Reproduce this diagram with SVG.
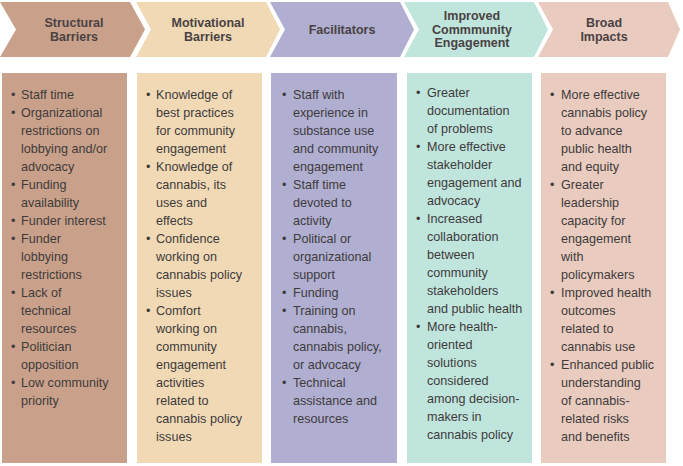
<svg xmlns="http://www.w3.org/2000/svg" width="683" height="466" viewBox="0 0 683 466">
<style>
.hd{font-family:"Liberation Sans",Arial,sans-serif;font-size:12.5px;font-weight:bold;fill:#4a4242;text-anchor:middle}
.tx{font-family:"Liberation Sans",Arial,sans-serif;font-size:12.6px;fill:#3f3b3b}
.c1{fill:#C9A18A}.c2{fill:#F1D9B6}.c3{fill:#B0AED1}.c4{fill:#BFE5DD}.c5{fill:#E9CBC0}
</style>
<rect width="683" height="466" fill="#ffffff"/>
<g id="structural">
<polygon class="c1" points="0,2 130,2 145,29.5 130,57 0,57 16,29.5"/>
<text class="hd" x="74" y="27">Structural</text>
<text class="hd" x="74" y="40.5">Barriers</text>
<rect class="c1" x="2" y="73" width="125" height="390"/>
<g class="tx">
<text x="11" y="98.5">•</text>
<text x="21" y="98.5">Staff time</text>
<text x="11" y="116.5">•</text>
<text x="21" y="116.5">Organizational</text>
<text x="21" y="134.5">restrictions on</text>
<text x="21" y="152.5">lobbying and/or</text>
<text x="21" y="170.5">advocacy</text>
<text x="11" y="188.5">•</text>
<text x="21" y="188.5">Funding</text>
<text x="21" y="206.5">availability</text>
<text x="11" y="224.5">•</text>
<text x="21" y="224.5">Funder interest</text>
<text x="11" y="242.5">•</text>
<text x="21" y="242.5">Funder</text>
<text x="21" y="260.5">lobbying</text>
<text x="21" y="278.5">restrictions</text>
<text x="11" y="296.5">•</text>
<text x="21" y="296.5">Lack of</text>
<text x="21" y="314.5">technical</text>
<text x="21" y="332.5">resources</text>
<text x="11" y="350.5">•</text>
<text x="21" y="350.5">Politician</text>
<text x="21" y="368.5">opposition</text>
<text x="11" y="386.5">•</text>
<text x="21" y="386.5">Low community</text>
<text x="21" y="404.5">priority</text>
</g>
</g>
<g id="motivational">
<polygon class="c2" points="136,2 266,2 280,29.5 266,57 136,57 151,29.5"/>
<text class="hd" x="208" y="27">Motivational</text>
<text class="hd" x="208" y="40.5">Barriers</text>
<rect class="c2" x="137" y="73" width="125" height="390"/>
<g class="tx">
<text x="146" y="98.5">•</text>
<text x="156" y="98.5">Knowledge of</text>
<text x="156" y="116.5">best practices</text>
<text x="156" y="134.5">for community</text>
<text x="156" y="152.5">engagement</text>
<text x="146" y="170.5">•</text>
<text x="156" y="170.5">Knowledge of</text>
<text x="156" y="188.5">cannabis, its</text>
<text x="156" y="206.5">uses and</text>
<text x="156" y="224.5">effects</text>
<text x="146" y="242.5">•</text>
<text x="156" y="242.5">Confidence</text>
<text x="156" y="260.5">working on</text>
<text x="156" y="278.5">cannabis policy</text>
<text x="156" y="296.5">issues</text>
<text x="146" y="314.5">•</text>
<text x="156" y="314.5">Comfort</text>
<text x="156" y="332.5">working on</text>
<text x="156" y="350.5">community</text>
<text x="156" y="368.5">engagement</text>
<text x="156" y="386.5">activities</text>
<text x="156" y="404.5">related to</text>
<text x="156" y="422.5">cannabis policy</text>
<text x="156" y="440.5">issues</text>
</g>
</g>
<g id="facilitators">
<polygon class="c3" points="270,2 400,2 414,29.5 400,57 270,57 285,29.5"/>
<text class="hd" x="342" y="34">Facilitators</text>
<rect class="c3" x="271" y="73" width="126" height="390"/>
<g class="tx">
<text x="282" y="98.5">•</text>
<text x="293" y="98.5">Staff with</text>
<text x="293" y="116.5">experience in</text>
<text x="293" y="134.5">substance use</text>
<text x="293" y="152.5">and community</text>
<text x="293" y="170.5">engagement</text>
<text x="282" y="188.5">•</text>
<text x="293" y="188.5">Staff time</text>
<text x="293" y="206.5">devoted to</text>
<text x="293" y="224.5">activity</text>
<text x="282" y="242.5">•</text>
<text x="293" y="242.5">Political or</text>
<text x="293" y="260.5">organizational</text>
<text x="293" y="278.5">support</text>
<text x="282" y="296.5">•</text>
<text x="293" y="296.5">Funding</text>
<text x="282" y="314.5">•</text>
<text x="293" y="314.5">Training on</text>
<text x="293" y="332.5">cannabis,</text>
<text x="293" y="350.5">cannabis policy,</text>
<text x="293" y="368.5">or advocacy</text>
<text x="282" y="386.5">•</text>
<text x="293" y="386.5">Technical</text>
<text x="293" y="404.5">assistance and</text>
<text x="293" y="422.5">resources</text>
</g>
</g>
<g id="improved">
<polygon class="c4" points="404,2 534,2 548,29.5 534,57 404,57 419,29.5"/>
<text class="hd" x="472" y="20">Improved</text>
<text class="hd" x="472" y="33.5">Commmunity</text>
<text class="hd" x="472" y="47">Engagement</text>
<rect class="c4" x="407" y="73" width="125" height="390"/>
<g class="tx">
<text x="416" y="96.5">•</text>
<text x="427" y="96.5">Greater</text>
<text x="427" y="114.5">documentation</text>
<text x="427" y="132.5">of problems</text>
<text x="416" y="150.5">•</text>
<text x="427" y="150.5">More effective</text>
<text x="427" y="168.5">stakeholder</text>
<text x="427" y="186.5">engagement and</text>
<text x="427" y="204.5">advocacy</text>
<text x="416" y="222.5">•</text>
<text x="427" y="222.5">Increased</text>
<text x="427" y="240.5">collaboration</text>
<text x="427" y="258.5">between</text>
<text x="427" y="276.5">community</text>
<text x="427" y="294.5">stakeholders</text>
<text x="427" y="312.5">and public health</text>
<text x="416" y="330.5">•</text>
<text x="427" y="330.5">More health-</text>
<text x="427" y="348.5">oriented</text>
<text x="427" y="366.5">solutions</text>
<text x="427" y="384.5">considered</text>
<text x="427" y="402.5">among decision-</text>
<text x="427" y="420.5">makers in</text>
<text x="427" y="438.5">cannabis policy</text>
</g>
</g>
<g id="broad">
<polygon class="c5" points="538,2 668,2 680,29.5 668,57 538,57 553,29.5"/>
<text class="hd" x="604" y="27">Broad</text>
<text class="hd" x="604" y="40.5">Impacts</text>
<rect class="c5" x="541" y="73" width="125" height="390"/>
<g class="tx">
<text x="550" y="98.5">•</text>
<text x="561" y="98.5">More effective</text>
<text x="561" y="116.5">cannabis policy</text>
<text x="561" y="134.5">to advance</text>
<text x="561" y="152.5">public health</text>
<text x="561" y="170.5">and equity</text>
<text x="550" y="188.5">•</text>
<text x="561" y="188.5">Greater</text>
<text x="561" y="206.5">leadership</text>
<text x="561" y="224.5">capacity for</text>
<text x="561" y="242.5">engagement</text>
<text x="561" y="260.5">with</text>
<text x="561" y="278.5">policymakers</text>
<text x="550" y="296.5">•</text>
<text x="561" y="296.5">Improved health</text>
<text x="561" y="314.5">outcomes</text>
<text x="561" y="332.5">related to</text>
<text x="561" y="350.5">cannabis use</text>
<text x="550" y="368.5">•</text>
<text x="561" y="368.5">Enhanced public</text>
<text x="561" y="386.5">understanding</text>
<text x="561" y="404.5">of cannabis-</text>
<text x="561" y="422.5">related risks</text>
<text x="561" y="440.5">and benefits</text>
</g>
</g>
<g id="connectors"/>
</svg>
